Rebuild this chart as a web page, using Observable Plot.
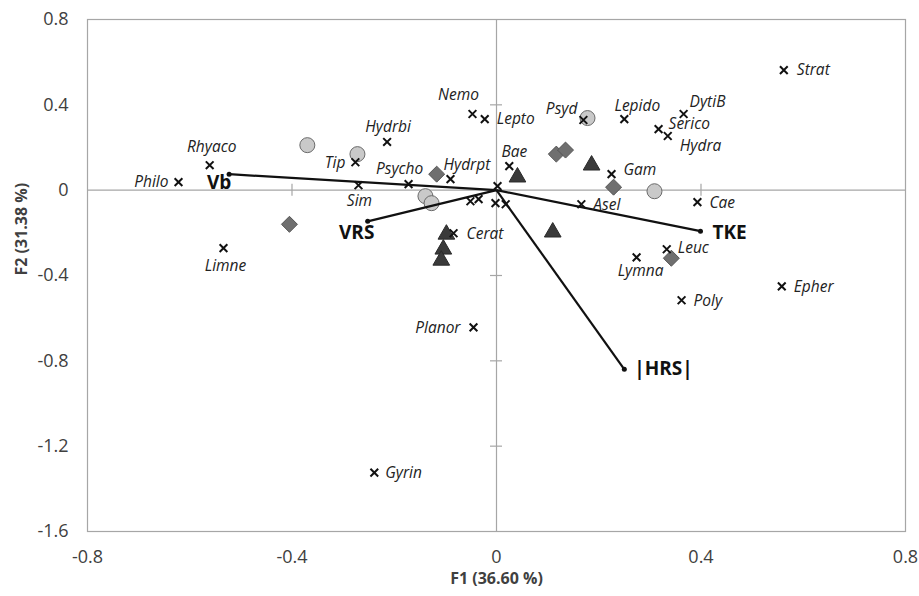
<!DOCTYPE html>
<html><head><meta charset="utf-8">
<script src="https://cdn.jsdelivr.net/npm/d3@7"></script>
<script src="https://cdn.jsdelivr.net/npm/@observablehq/plot@0.6"></script>
<style>body{margin:0;background:#fff}</style>
</head><body><div id="chart"></div>
<script>
// ---- data ----
const xTicks = [-0.8, -0.4, 0, 0.4, 0.8];
const yTicks = [0.8, 0.4, 0, -0.4, -0.8, -1.2, -1.6];
const xTitle = "F1 (36.60 %)";
const yTitle = "F2 (31.38 %)";

const taxaNames = ["Philo","Rhyaco","Hydrbi","Tip","Psycho","Sim","Hydrpt","Nemo","Lepto","Bae","Psyd","Lepido","DytiB","Serico","Hydra","Strat","Gam","Cae","Asel","Leuc","Lymna","Epher","Poly","Cerat","Limne","Planor","Gyrin","","","","",""];
const taxaF1 = [-0.622,-0.561,-0.214,-0.276,-0.172,-0.270,-0.090,-0.047,-0.023,0.025,0.170,0.250,0.366,0.317,0.335,0.562,0.225,0.393,0.166,0.333,0.274,0.558,0.362,-0.084,-0.534,-0.045,-0.239,-0.051,-0.035,-0.002,0.018,0.002];
const taxaF2 = [0.038,0.117,0.226,0.131,0.028,0.023,0.052,0.357,0.333,0.113,0.329,0.333,0.357,0.286,0.254,0.563,0.075,-0.056,-0.066,-0.277,-0.315,-0.451,-0.516,-0.202,-0.272,-0.643,-1.324,-0.052,-0.042,-0.061,-0.066,0.019];

const circleF1 = [-0.370,-0.272,-0.139,-0.127,0.178,0.309];
const circleF2 = [0.211,0.169,-0.028,-0.061,0.338,-0.005];

const diamondF1 = [-0.117,-0.405,0.117,0.135,0.229,0.342];
const diamondF2 = [0.075,-0.160,0.169,0.188,0.014,-0.319];

const triangleF1 = [0.041,0.186,0.110,-0.098,-0.104,-0.108];
const triangleF2 = [0.061,0.117,-0.197,-0.207,-0.277,-0.329];

const vectorNames = ["Vb","VRS","TKE","|HRS|"];
const vectorF1 = [-0.523,-0.252,0.399,0.250];
const vectorF2 = [0.075,-0.146,-0.192,-0.840];

// ---- label placement (style) ----
const place = {
  Philo:["end",-10,0], Rhyaco:["middle",2,-18], Hydrbi:["middle",1,-15], Tip:["end",-10,1],
  Psycho:["middle",-9,-15], Sim:["middle",1,16], Hydrpt:["start",-7,-14], Nemo:["middle",-14,-19],
  Lepto:["start",12,0], Bae:["middle",5,-14], Psyd:["end",-6,-11], Lepido:["middle",13,-13],
  DytiB:["start",6,-12], Serico:["start",10,-5], Hydra:["start",12,10], Strat:["start",13,0],
  Gam:["start",12,-4], Cae:["start",12,1], Asel:["start",12,1], Leuc:["start",11,-1],
  Lymna:["middle",4,14], Epher:["start",12,1], Poly:["start",12,1], Cerat:["start",13,1],
  Limne:["middle",2,18], Planor:["end",-13,1], Gyrin:["start",11,0],
  "Vb":["middle",-10,9], "VRS":["middle",-11,12], "TKE":["start",12,2], "|HRS|":["start",10,0]
};

const taxa = taxaNames.map((n,i)=>({name:n, f1:taxaF1[i], f2:taxaF2[i]}));
const circles = circleF1.map((v,i)=>({f1:v, f2:circleF2[i]}));
const diamonds = diamondF1.map((v,i)=>({f1:v, f2:diamondF2[i]}));
const triangles = triangleF1.map((v,i)=>({f1:v, f2:triangleF2[i]}));
const vectors = vectorNames.map((n,i)=>({name:n, f1:vectorF1[i], f2:vectorF2[i]}));

const font = "'Open Sans', sans-serif";
const gray = "#a6a6a6";

const taxaLabels = taxa.filter(d=>d.name).map(d=>{
  const [a,dx,dy] = place[d.name];
  return Plot.text([d], {x:"f1", y:"f2", text:"name", textAnchor:a, dx, dy,
    fontStyle:"italic", fontSize:15.5, fill:"#222"});
});
const vecLabels = vectors.map(d=>{
  const [a,dx,dy] = place[d.name];
  return Plot.text([d], {x:"f1", y:"f2", text:"name", textAnchor:a, dx, dy,
    fontWeight:"bold", fontSize:19, fill:"#111"});
});

const chart = Plot.plot({
  width: 919, height: 596,
  marginLeft: 87, marginRight: 14, marginTop: 19, marginBottom: 65,
  style: {fontFamily: font, background: "#fff"},
  x: {domain: [-0.8, 0.8]},
  y: {domain: [-1.6, 0.8]},
  marks: [
    Plot.ruleX([0], {stroke: gray, strokeWidth: 1.2}),
    Plot.ruleY([0], {stroke: gray, strokeWidth: 1.2}),
    Plot.ruleX(xTicks.filter(t=>t!==0 && Math.abs(t)<0.8), {x: d=>d, y1: 0, y2: 0, insetTop: -6, insetBottom: -6, stroke: gray, strokeWidth: 1.2}),
    Plot.ruleY(yTicks.filter(t=>t!==0 && t<0.8 && t>-1.6), {y: d=>d, x1: 0, x2: 0, insetLeft: -6, insetRight: -6, stroke: gray, strokeWidth: 1.2}),
    Plot.frame({stroke: gray, strokeWidth: 1.2}),
    Plot.axisX(xTicks, {tickSize: 0, tickPadding: 19, tickFormat: d=>String(d), fontSize: 18, fill: "#404040", label: null}),
    Plot.axisY(yTicks, {tickSize: 0, tickPadding: 19, tickFormat: d=>String(d), fontSize: 18, fill: "#404040", label: null}),
    Plot.text([xTitle], {frameAnchor: "bottom", dy: 52, fontWeight: "bold", fontSize: 16, fill: "#404040"}),
    Plot.text([yTitle], {frameAnchor: "left", dx: -66, rotate: -90, fontWeight: "bold", fontSize: 16, fill: "#404040"}),
    Plot.dot(circles, {x: "f1", y: "f2", r: 7.5, fill: "#c9c9c9", stroke: "#6a6a6a", strokeWidth: 1}),
    Plot.dot(diamonds, {x: "f1", y: "f2", r: 7.2, symbol: "diamond2", fill: "#6f6f6f", stroke: "#555", strokeWidth: 1}),
    Plot.dot(triangles, {x: "f1", y: "f2", r: 6.2, symbol: "triangle", fill: "#3a3a3a", stroke: "#2a2a2a", strokeWidth: 1}),
    Plot.link(vectors, {x1: 0, y1: 0, x2: "f1", y2: "f2", stroke: "#111", strokeWidth: 2.2}),
    Plot.dot(vectors, {x: "f1", y: "f2", r: 2.5, fill: "#111"}),
    Plot.dot(taxa, {x: "f1", y: "f2", r: 3.6, symbol: "times", stroke: "#111", strokeWidth: 2}),
    ...taxaLabels,
    ...vecLabels
  ]
});
document.getElementById("chart").appendChild(chart);
</script>
</body></html>
